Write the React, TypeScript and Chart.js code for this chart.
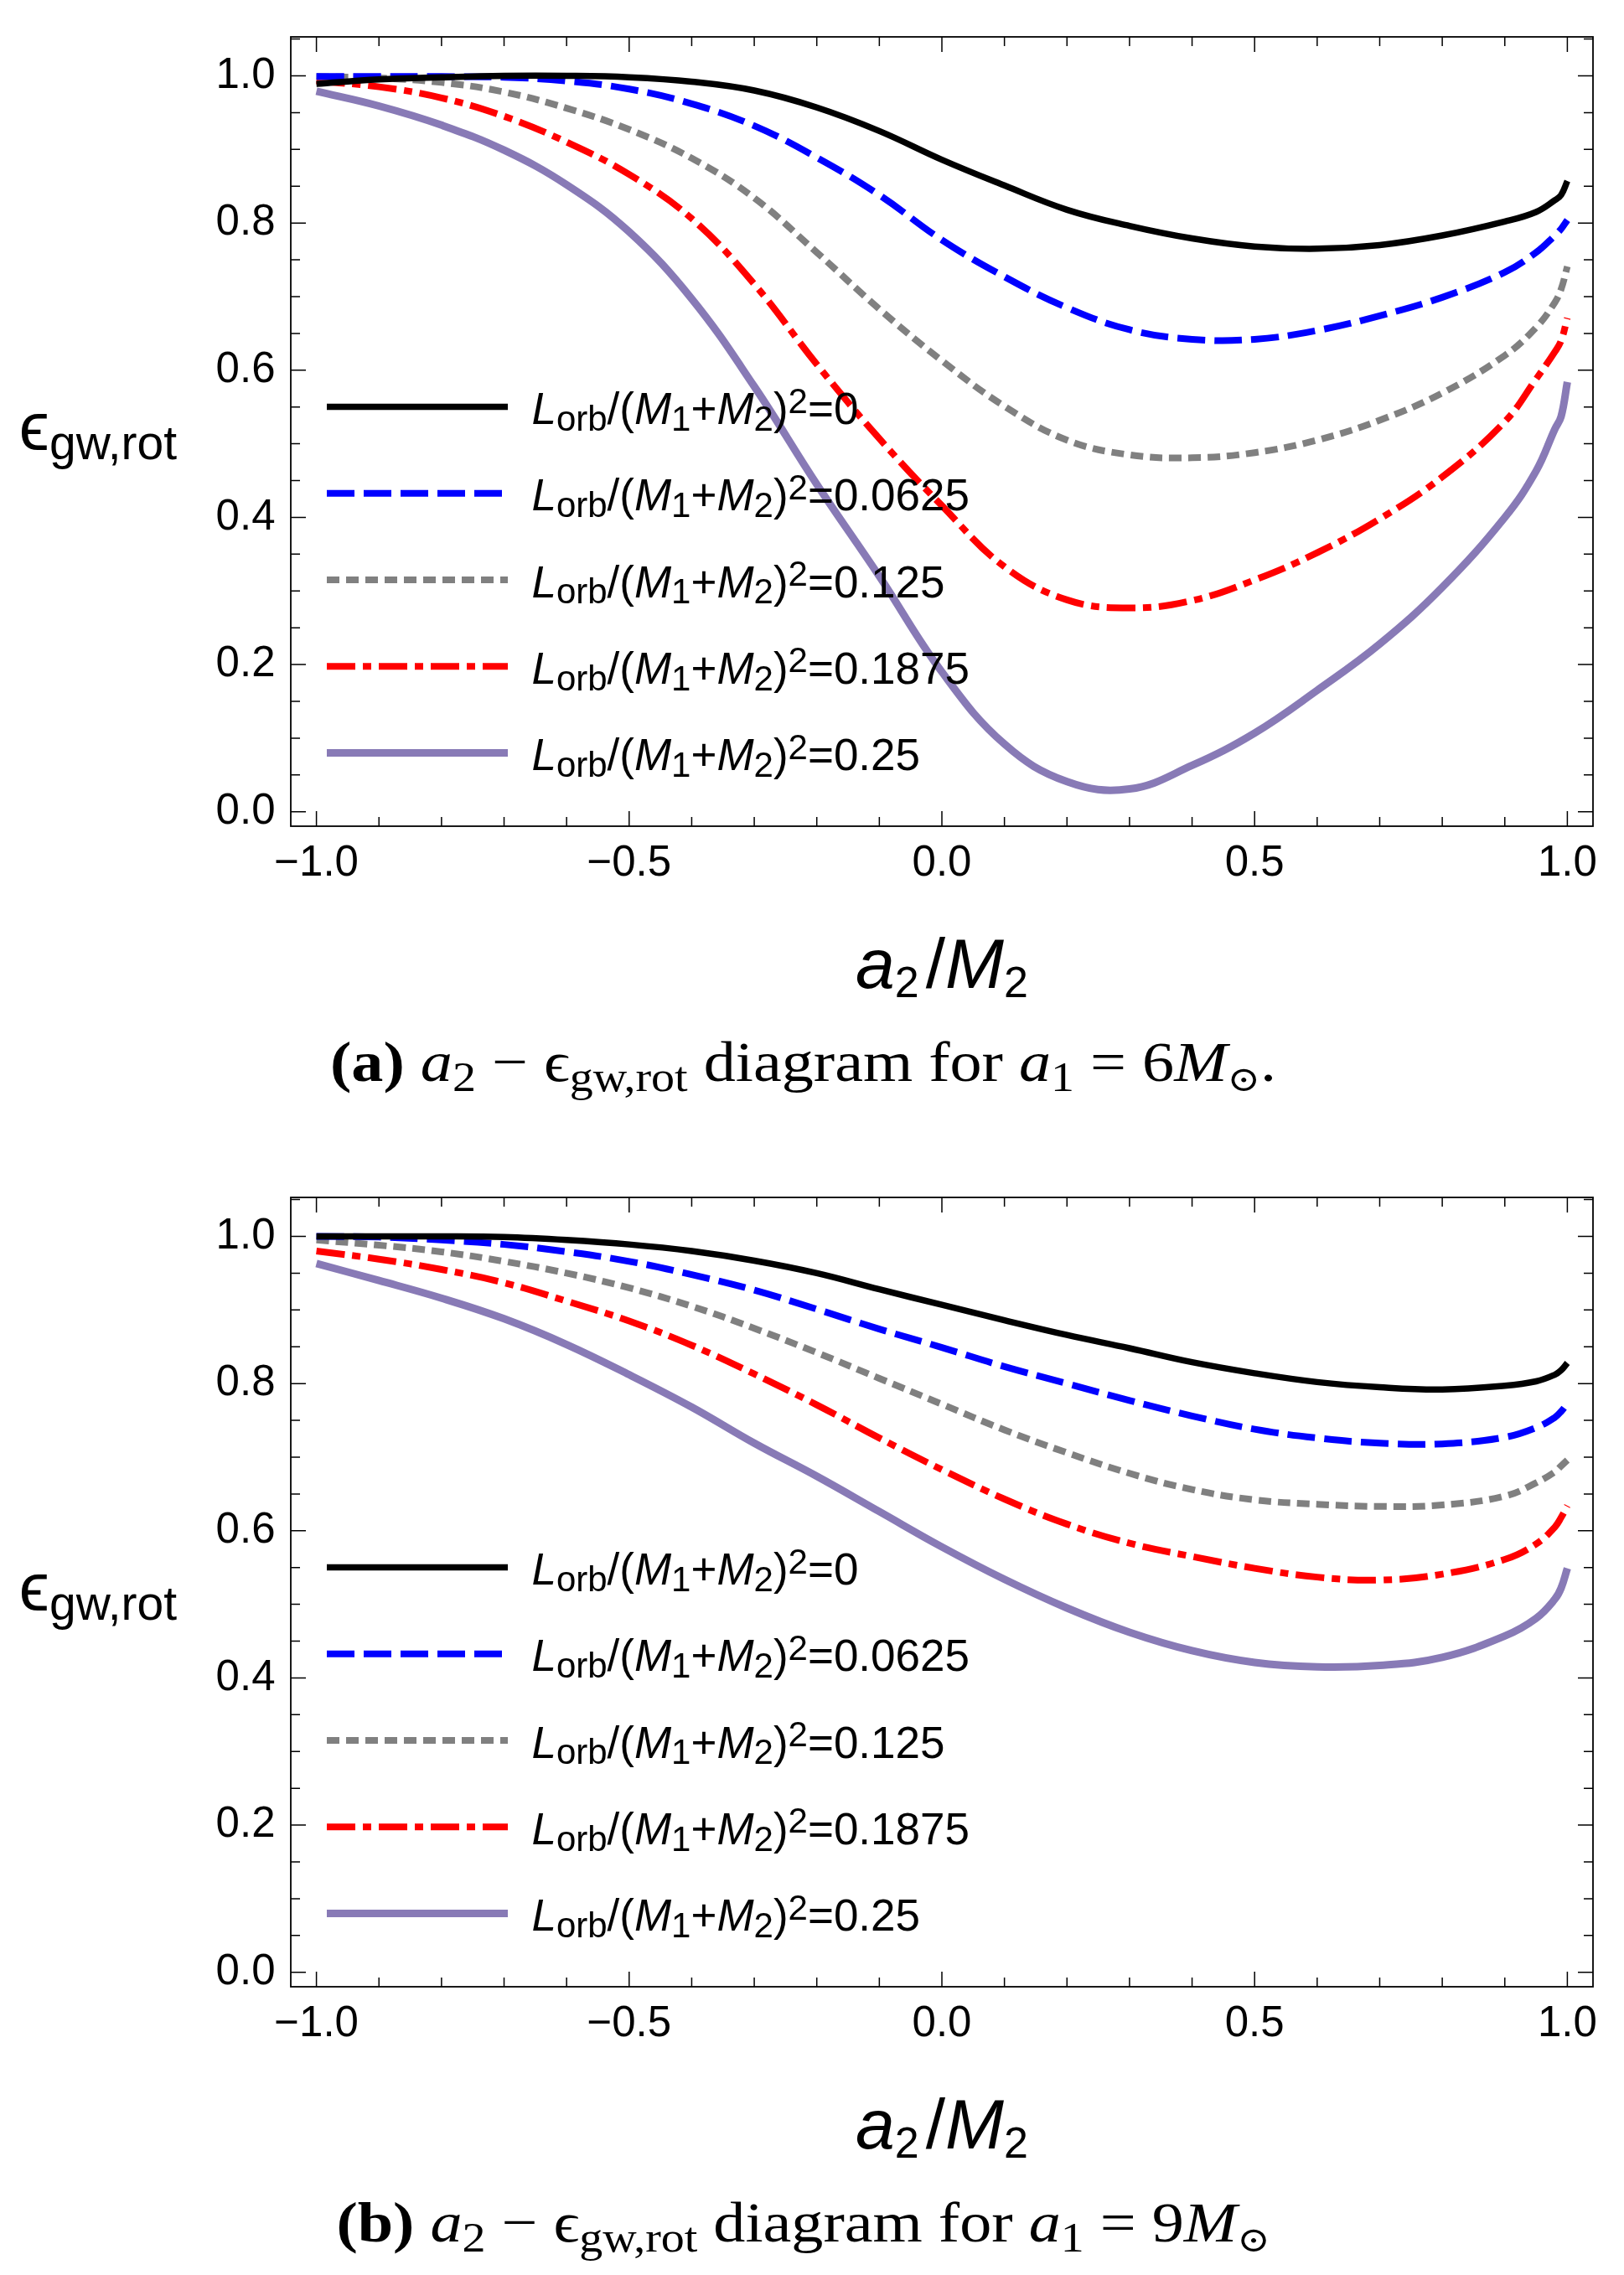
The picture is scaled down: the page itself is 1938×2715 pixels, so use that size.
import React, { useEffect, useRef } from "react";
import { Chart, registerables } from "chart.js";

Chart.register(...registerables);

// ---------- data ----------
const X_GRID = [-1, -0.9, -0.8, -0.7, -0.6, -0.5, -0.4, -0.3, -0.2, -0.1, 0, 0.1, 0.2, 0.3, 0.4, 0.5, 0.6, 0.7, 0.8, 0.9, 0.95, 0.98, 0.99, 1.0];
const L_VALUES = ["0", "0.0625", "0.125", "0.1875", "0.25"];
const X_TICKS = [-1, -0.5, 0, 0.5, 1];
const Y_TICKS = [0, 0.2, 0.4, 0.6, 0.8, 1.0];

// (a) a1 = 6 Msun
const A_L0 = [0.989, 0.995, 0.998, 1.0, 1.0, 0.998, 0.992, 0.980, 0.957, 0.925, 0.886, 0.851, 0.818, 0.796, 0.779, 0.768, 0.765, 0.770, 0.783, 0.802, 0.815, 0.831, 0.838, 0.857];
const A_L1 = [0.999, 0.999, 0.999, 0.998, 0.993, 0.982, 0.962, 0.932, 0.889, 0.838, 0.777, 0.727, 0.685, 0.655, 0.642, 0.642, 0.654, 0.674, 0.699, 0.733, 0.760, 0.783, 0.792, 0.804];
const A_L2 = [0.999, 0.997, 0.991, 0.978, 0.956, 0.927, 0.888, 0.834, 0.760, 0.683, 0.613, 0.551, 0.505, 0.485, 0.481, 0.488, 0.505, 0.532, 0.569, 0.620, 0.658, 0.692, 0.710, 0.741];
const A_L3 = [0.993, 0.985, 0.970, 0.945, 0.910, 0.866, 0.806, 0.717, 0.608, 0.507, 0.416, 0.333, 0.288, 0.277, 0.287, 0.315, 0.352, 0.398, 0.455, 0.530, 0.588, 0.625, 0.640, 0.671];
const A_L4 = [0.979, 0.959, 0.933, 0.899, 0.852, 0.788, 0.697, 0.578, 0.445, 0.320, 0.190, 0.092, 0.041, 0.031, 0.063, 0.107, 0.165, 0.228, 0.305, 0.400, 0.463, 0.520, 0.537, 0.584];

// (b) a1 = 9 Msun
const B_L0 = [1.0, 1.0, 1.0, 0.999, 0.995, 0.989, 0.980, 0.967, 0.950, 0.928, 0.907, 0.886, 0.866, 0.848, 0.829, 0.814, 0.802, 0.795, 0.792, 0.797, 0.803, 0.812, 0.818, 0.828];
const B_L1 = [1.0, 0.999, 0.995, 0.989, 0.979, 0.966, 0.948, 0.927, 0.901, 0.874, 0.849, 0.823, 0.800, 0.777, 0.756, 0.738, 0.726, 0.719, 0.718, 0.727, 0.740, 0.754, 0.762, 0.773];
const B_L2 = [0.995, 0.988, 0.979, 0.966, 0.950, 0.930, 0.905, 0.875, 0.842, 0.807, 0.772, 0.737, 0.706, 0.678, 0.656, 0.642, 0.636, 0.633, 0.635, 0.647, 0.665, 0.680, 0.688, 0.696];
const B_L3 = [0.980, 0.969, 0.955, 0.937, 0.912, 0.885, 0.852, 0.813, 0.771, 0.726, 0.683, 0.643, 0.609, 0.583, 0.565, 0.549, 0.537, 0.533, 0.541, 0.561, 0.582, 0.605, 0.618, 0.634];
const B_L4 = [0.963, 0.940, 0.916, 0.888, 0.853, 0.812, 0.768, 0.719, 0.674, 0.626, 0.578, 0.534, 0.495, 0.462, 0.437, 0.421, 0.415, 0.417, 0.428, 0.457, 0.481, 0.507, 0.522, 0.549];

// ---------- styles ----------
const SANS = '"Liberation Sans", Arial, "DejaVu Sans", sans-serif';
const SERIF = '"Liberation Serif", "DejaVu Serif", serif';
const COLORS = ["#000000", "#0000ff", "#808080", "#ff0000", "#887ab6"];
const DASHES: number[][] = [[], [33, 11], [15, 8], [34, 9, 10, 9], []];
const WIDTHS = [7.5, 8, 8, 8, 9];

const W = 1938;
const FRAME_L = 347;
const FRAME_R = 1901;
const FRAME_T = 27;
const FRAME_B = 986;

type Seg = { t: string; font: string; dy?: number; dx?: number };

function segWidth(ctx: CanvasRenderingContext2D, segs: Seg[]) {
  let w = 0;
  for (const s of segs) {
    ctx.font = s.font;
    w += ctx.measureText(s.t).width + (s.dx || 0);
  }
  return w;
}

function drawSegs(ctx: CanvasRenderingContext2D, segs: Seg[], x: number, y: number) {
  let cx = x;
  for (const s of segs) {
    ctx.font = s.font;
    cx += s.dx || 0;
    ctx.fillText(s.t, cx, y + (s.dy || 0));
    cx += ctx.measureText(s.t).width;
  }
}

function legendSegs(v: string): Seg[] {
  const m = `53px ${SANS}`;
  const it = `italic 53px ${SANS}`;
  const sb = `42px ${SANS}`;
  return [
    { t: "L", font: it },
    { t: "orb", font: sb, dy: 7.7 },
    { t: "/(", font: m },
    { t: "M", font: it },
    { t: "1", font: sb, dy: 7.7 },
    { t: "+", font: m },
    { t: "M", font: it },
    { t: "2", font: sb, dy: 7.7 },
    { t: ")", font: m },
    { t: "2", font: sb, dy: -13.4 },
    { t: "=" + v, font: m },
  ];
}

function captionSegs(label: string, mass: string, period: boolean): Seg[] {
  const m = `68px ${SERIF}`;
  const b = `bold 68px ${SERIF}`;
  const it = `italic 68px ${SERIF}`;
  const sb = `50px ${SERIF}`;
  const segs: Seg[] = [
    { t: "(" + label + ")", font: b },
    { t: " ", font: m },
    { t: "a", font: it },
    { t: "2", font: sb, dy: 12 },
    { t: " \u2212 ", font: m },
    { t: "\u03F5", font: m },
    { t: "gw,rot", font: sb, dy: 12 },
    { t: " diagram for ", font: m },
    { t: "a", font: it },
    { t: "1", font: sb, dy: 12 },
    { t: " = " + mass, font: m },
    { t: "M", font: it },
    { t: "\u2299", font: `42px ${SERIF}`, dy: 12 },
  ];
  if (period) segs.push({ t: ".", font: m });
  return segs;
}

function fmt(v: number) {
  return (v < 0 ? "\u2212" : "") + Math.abs(v).toFixed(1);
}

type PanelProps = { series: number[][]; label: string; mass: string; period: boolean; height: number };

function Panel({ series, label, mass, period, height }: PanelProps) {
  const ref = useRef<HTMLCanvasElement | null>(null);
  useEffect(() => {
    const canvas = ref.current;
    if (!canvas) return;

    const decor = {
      id: "decor",
      afterDatasetsDraw(chart: any) {
        const ctx: CanvasRenderingContext2D = chart.ctx;
        ctx.save();
        for (let i = 0; i < L_VALUES.length; i++) {
          const ly = 485.4 + i * 103.3;
          ctx.beginPath();
          ctx.strokeStyle = COLORS[i];
          ctx.lineWidth = WIDTHS[i];
          ctx.lineCap = "butt";
          ctx.setLineDash(DASHES[i]);
          ctx.moveTo(390, ly);
          ctx.lineTo(606, ly);
          ctx.stroke();
        }
        ctx.setLineDash([]);
        ctx.fillStyle = "#000";
        ctx.textBaseline = "alphabetic";
        ctx.textAlign = "left";
        for (let i = 0; i < L_VALUES.length; i++) {
          drawSegs(ctx, legendSegs(L_VALUES[i]), 634.4, 505.9 + i * 103.3);
        }
        ctx.restore();
      },
      afterDraw(chart: any) {
        const ctx: CanvasRenderingContext2D = chart.ctx;
        const xs = chart.scales.x;
        const ys = chart.scales.y;
        const a = chart.chartArea;
        ctx.save();
        ctx.strokeStyle = "#000";
        ctx.setLineDash([]);
        ctx.lineWidth = 1.5;
        ctx.beginPath();
        for (let k = -10; k <= 10; k++) {
          const px = xs.getPixelForValue(k / 10);
          const len = k % 5 === 0 ? 18 : 11;
          ctx.moveTo(px, a.bottom);
          ctx.lineTo(px, a.bottom - len);
          ctx.moveTo(px, a.top);
          ctx.lineTo(px, a.top + len);
        }
        for (let k = 0; k <= 21; k++) {
          const py = ys.getPixelForValue(k * 0.05);
          const len = k % 4 === 0 ? 18 : 11;
          ctx.moveTo(a.left, py);
          ctx.lineTo(a.left + len, py);
          ctx.moveTo(a.right, py);
          ctx.lineTo(a.right - len, py);
        }
        ctx.stroke();
        ctx.lineWidth = 1.8;
        ctx.strokeRect(a.left, a.top, a.right - a.left, a.bottom - a.top);

        ctx.fillStyle = "#000";
        ctx.textBaseline = "alphabetic";
        ctx.textAlign = "left";
        const xt: Seg[] = [
          { t: "a", font: `italic 84px ${SANS}` },
          { t: "2", font: `52px ${SANS}`, dy: 11 },
          { t: "/", font: `84px ${SANS}`, dx: 8 },
          { t: "M", font: `italic 84px ${SANS}` },
          { t: "2", font: `52px ${SANS}`, dy: 11 },
        ];
        const xw = segWidth(ctx, xt);
        drawSegs(ctx, xt, (a.left + a.right) / 2 - xw / 2, 1179);
        const yt: Seg[] = [
          { t: "\u03F5", font: `82px ${SANS}` },
          { t: "gw,rot", font: `57px ${SANS}`, dy: 11 },
        ];
        drawSegs(ctx, yt, 22.7, 536.7);
        const refSegs = captionSegs("a", "6", true);
        const sx = 1129 / segWidth(ctx, refSegs);
        const cs = captionSegs(label, mass, period);
        const cw = segWidth(ctx, cs) * sx;
        ctx.translate(958.5 - cw / 2, 1290);
        ctx.scale(sx, 1);
        drawSegs(ctx, cs, 0, 0);
        ctx.restore();
      },
    };

    const chart = new Chart(canvas, {
      type: "line",
      data: {
        datasets: series.map((vals, i) => ({
          label: L_VALUES[i],
          data: X_GRID.map((x, j) => ({ x, y: vals[j] })),
          borderColor: COLORS[i],
          backgroundColor: COLORS[i],
          borderWidth: WIDTHS[i],
          borderDash: DASHES[i],
          borderCapStyle: "butt",
          borderJoinStyle: "round",
          tension: 0.4,
          pointRadius: 0,
          fill: false,
        })),
      },
      options: {
        animation: false,
        responsive: false,
        devicePixelRatio: 1,
        layout: { padding: { left: 0, right: W - FRAME_R, top: FRAME_T, bottom: 0 } },
        plugins: { legend: { display: false }, tooltip: { enabled: false } },
        scales: {
          x: {
            type: "linear",
            min: -1.041,
            max: 1.041,
            grid: { display: false, drawTicks: false },
            border: { display: false },
            afterBuildTicks: (s: any) => {
              s.ticks = X_TICKS.map((v) => ({ value: v }));
            },
            afterFit: (s: any) => {
              s.height = height - FRAME_B;
            },
            ticks: {
              autoSkip: false,
              maxRotation: 0,
              padding: 19,
              color: "#000",
              font: { family: SANS, size: 51, lineHeight: 1 },
              callback: (v: any) => fmt(Number(v)),
            },
          },
          y: {
            type: "linear",
            min: -0.0196,
            max: 1.0529,
            grid: { display: false, drawTicks: false },
            border: { display: false },
            afterBuildTicks: (s: any) => {
              s.ticks = Y_TICKS.map((v) => ({ value: v }));
            },
            afterFit: (s: any) => {
              s.width = FRAME_L;
            },
            ticks: {
              autoSkip: false,
              padding: 18.5,
              color: "#000",
              font: { family: SANS, size: 51, lineHeight: 1 },
              callback: (v: any) => Number(v).toFixed(1),
            },
          },
        },
      },
      plugins: [decor],
    } as any);
    return () => chart.destroy();
  }, [series, label, mass, period, height]);

  return <canvas ref={ref} width={W} height={height} style={{ display: "block", width: W, height }} />;
}

const SERIES_A = [A_L0, A_L1, A_L2, A_L3, A_L4];
const SERIES_B = [B_L0, B_L1, B_L2, B_L3, B_L4];

export default function App() {
  return (
    <div style={{ position: "absolute", left: 0, top: 0, width: W, height: 2715, background: "#fff" }}>
      <div style={{ position: "absolute", left: 0, top: 0 }}>
        <Panel series={SERIES_A} label="a" mass="6" period={true} height={1385} />
      </div>
      <div style={{ position: "absolute", left: 0, top: 1385 }}>
        <Panel series={SERIES_B} label="b" mass="9" period={false} height={1330} />
      </div>
    </div>
  );
}
